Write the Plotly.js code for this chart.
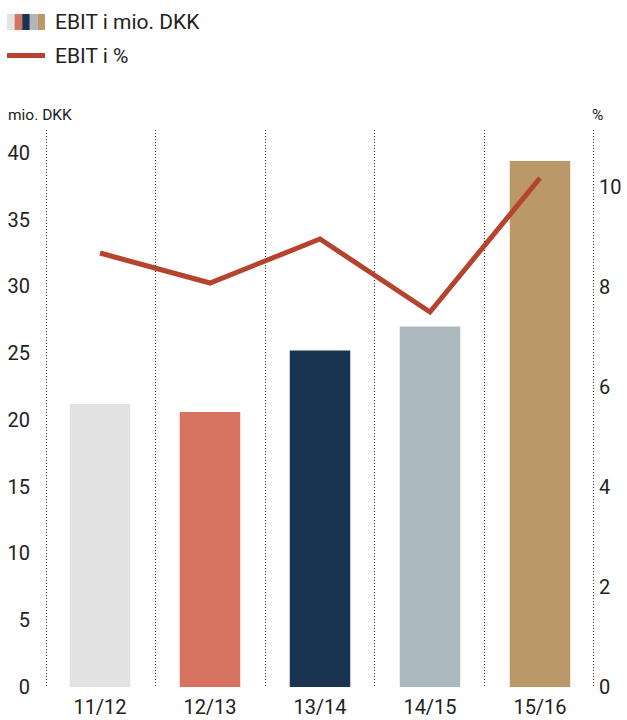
<!DOCTYPE html>
<html><head><meta charset="utf-8">
<script src="https://cdn.plot.ly/plotly-3.0.1.min.js"></script>
<style>html,body{margin:0;padding:0;background:#fff}#chart{width:627px;height:720px}</style>
</head><body><div id="chart"></div>
<script>
var categories = ['11/12','12/13','13/14','14/15','15/16'];
var ebitValues = [21.2, 20.6, 25.2, 27.0, 39.4];
var ebitPct = [8.68, 8.08, 8.96, 7.5, 10.18];
var barColors = ['#e2e2e2','#d6735f','#1a3350','#abb8be','#bb986a'];
var lineColor = '#b5432d';
var legendBarLabel = 'EBIT i mio. DKK';
var legendLineLabel = 'EBIT i %';
var leftUnit = 'mio. DKK';
var rightUnit = '%';

var FONT = 'Roboto, "DejaVu Sans", sans-serif';
var TXT = '#222';

var traces = [
  {type:'bar', x:categories, y:ebitValues, marker:{color:barColors}, width:0.55, showlegend:false, hoverinfo:'skip'},
  {type:'scatter', mode:'lines', x:categories, y:ebitPct, yaxis:'y2', line:{color:lineColor, width:5}, showlegend:false, hoverinfo:'skip'}
];

// legend icon built from the colour list
var shapes = [];
var iconX0 = 7, iconW = 38;
barColors.forEach(function(c,i){
  var w = iconW/barColors.length;
  shapes.push({type:'rect', xref:'paper', yref:'paper', layer:'above',
    x0:(iconX0 + i*w - 45)/550, x1:(iconX0 + (i+1)*w - 45)/550,
    y0:(687-30)/557, y1:(687-14)/557, fillcolor:c, line:{width:0}});
});
shapes.push({type:'line', xref:'paper', yref:'paper',
  x0:(7-45)/550, x1:(45-45)/550, y0:(687-55.5)/557, y1:(687-55.5)/557,
  line:{color:lineColor, width:5}});

var annotations = [
  {xref:'paper', yref:'paper', x:(53-45)/550, y:(687-22)/557, xanchor:'left', yanchor:'middle', showarrow:false,
   text:legendBarLabel, font:{family:FONT, size:21, color:TXT}},
  {xref:'paper', yref:'paper', x:(53-45)/550, y:(687-56)/557, xanchor:'left', yanchor:'middle', showarrow:false,
   text:legendLineLabel, font:{family:FONT, size:21, color:TXT}},
  {xref:'paper', yref:'paper', x:(6-45)/550, y:(687-115)/557, xanchor:'left', yanchor:'middle', showarrow:false,
   text:leftUnit, font:{family:FONT, size:15.5, color:TXT}},
  {xref:'paper', yref:'paper', x:(597-45)/550, y:(687-115)/557, xanchor:'center', yanchor:'middle', showarrow:false,
   text:rightUnit, font:{family:FONT, size:15.5, color:TXT}}
];

var layout = {
  width:627, height:720,
  margin:{l:45, r:32, t:130, b:33},
  paper_bgcolor:'#fff', plot_bgcolor:'rgba(0,0,0,0)',
  showlegend:false,
  font:{family:FONT, color:TXT},
  xaxis:{type:'category', showgrid:false, zeroline:false, showline:false, ticks:'',
         tickfont:{family:FONT, size:20, color:TXT}, ticklabelstandoff:6, fixedrange:true},
  xaxis2:{type:'linear', overlaying:'x', range:[-0.51,4.51], tickvals:[-0.5,0.5,1.5,2.5,3.5,4.5],
          showticklabels:false, ticks:'', showgrid:true, griddash:'1px,2px', gridcolor:'#333', gridwidth:1,
          zeroline:false, showline:false, fixedrange:true},
  yaxis:{range:[0,41.72], dtick:5, showgrid:false, zeroline:false, showline:false, ticks:'',
         tickfont:{family:FONT, size:20, color:TXT}, ticklabelstandoff:14, fixedrange:true},
  yaxis2:{overlaying:'y', side:'right', range:[0,11.14], dtick:2, showgrid:false, zeroline:false, showline:false,
          ticks:'', tickfont:{family:FONT, size:20, color:TXT}, ticklabelstandoff:3, fixedrange:true},
  shapes:shapes,
  annotations:annotations
};

// invisible helper trace so the grid axis is drawn
traces.push({type:'scatter', x:[0], y:[0], xaxis:'x2', mode:'markers', marker:{opacity:0}, showlegend:false, hoverinfo:'skip'});

Plotly.newPlot('chart', traces, layout, {displayModeBar:false, staticPlot:true});
</script>
</body></html>
